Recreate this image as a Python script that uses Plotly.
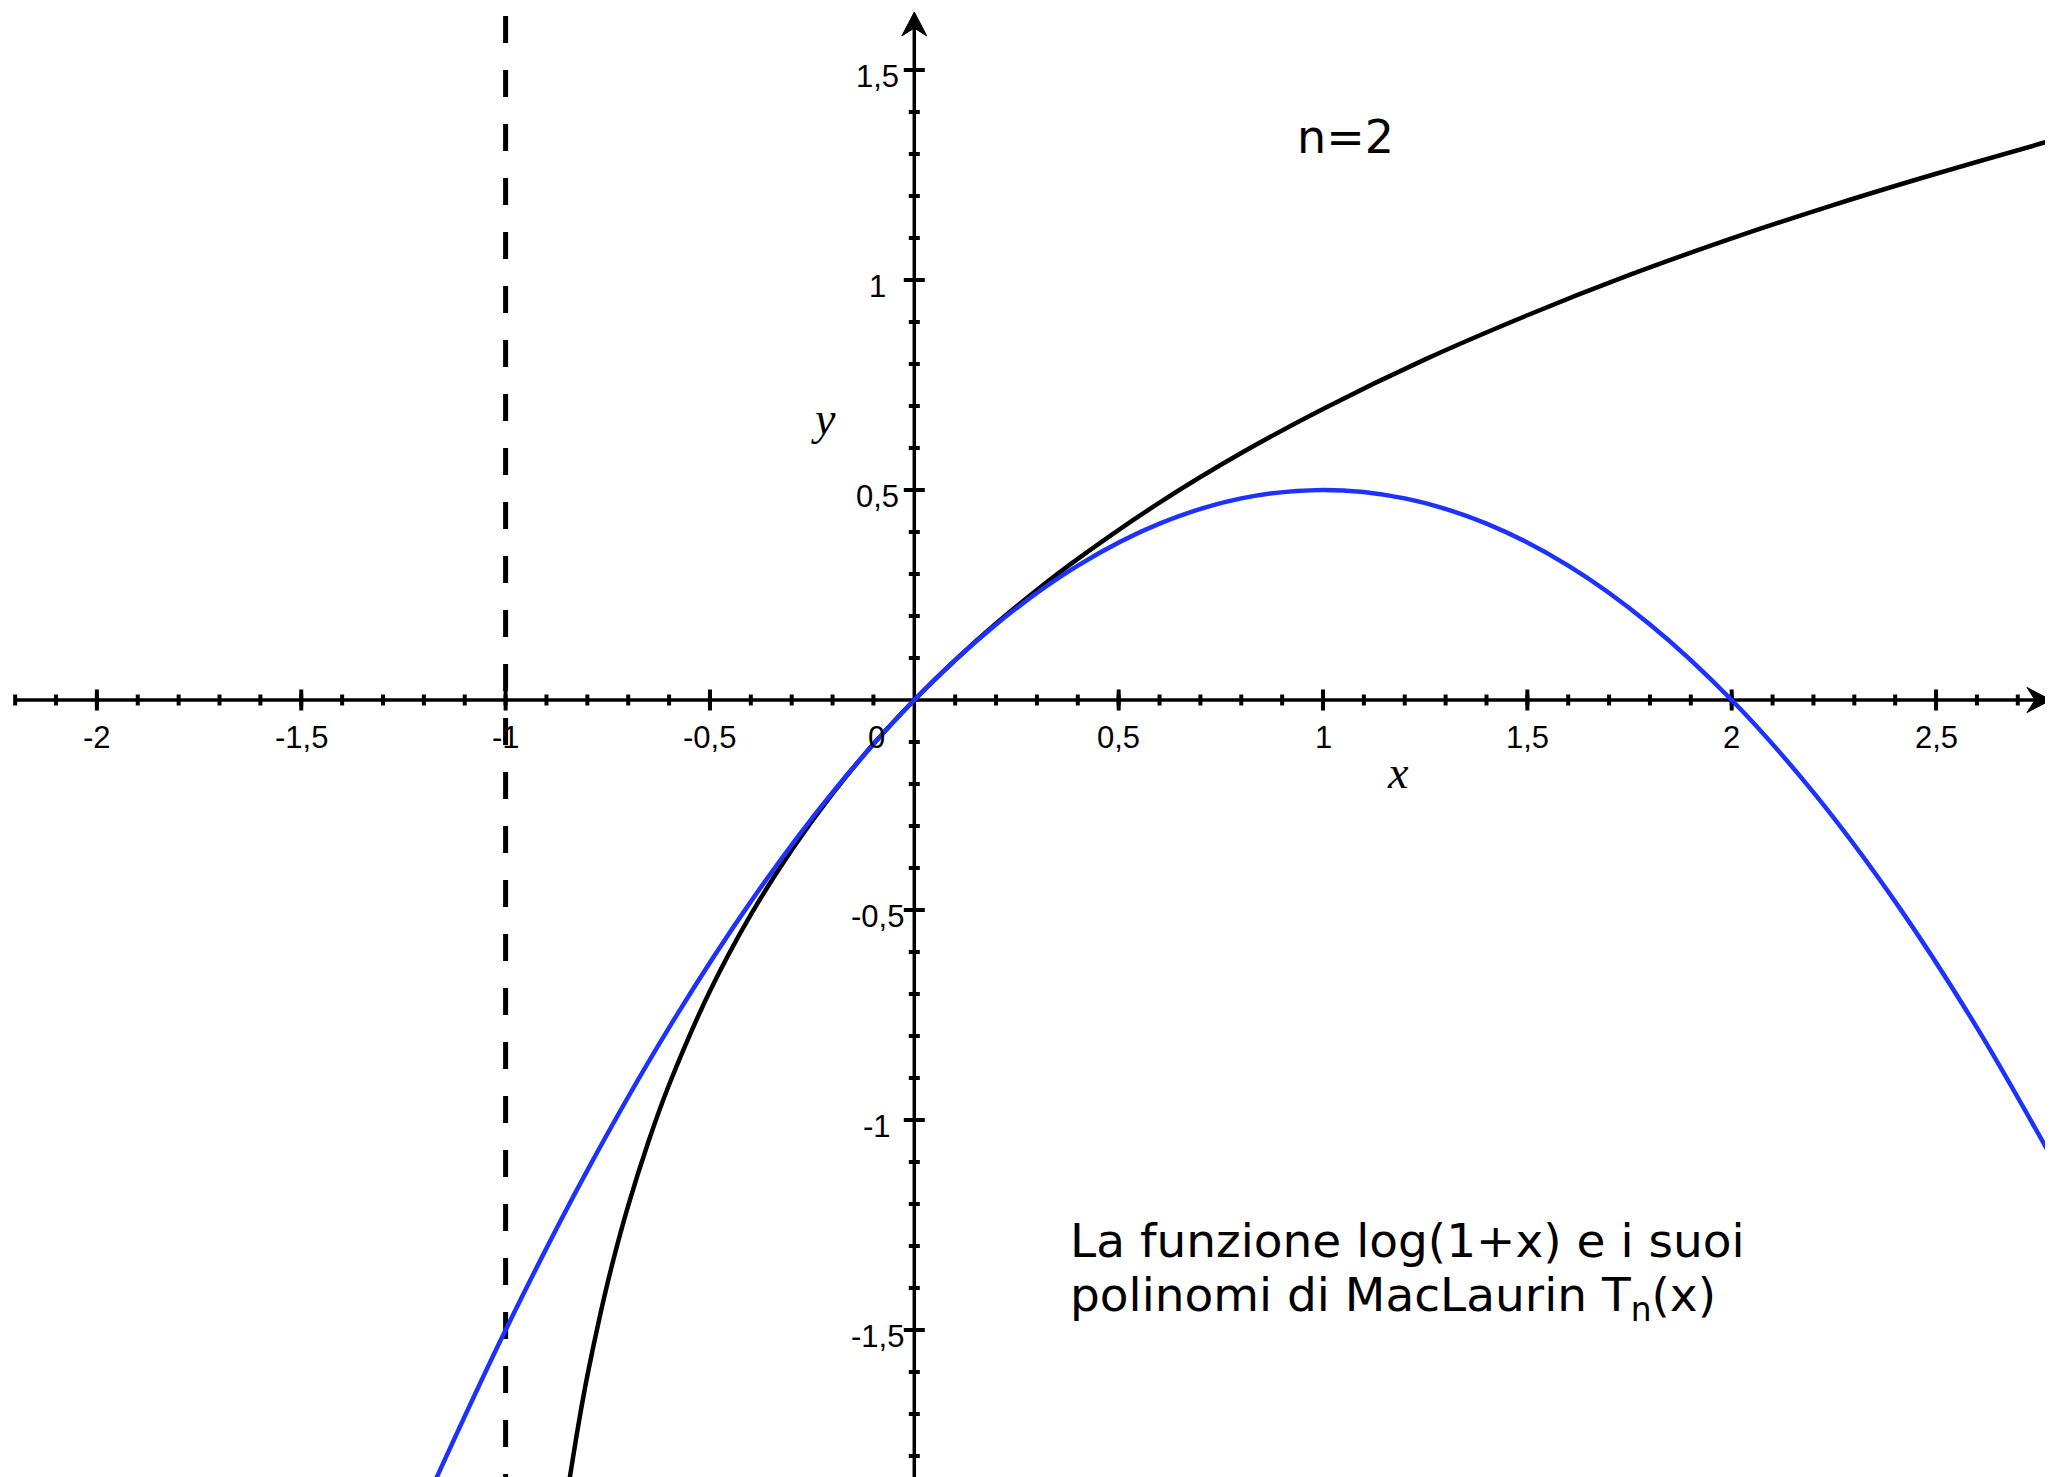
import plotly.graph_objects as go

# ---- data ----
x_log = [-0.843, -0.82, -0.8, -0.77, -0.74, -0.7, -0.65, -0.6, -0.5, -0.4, -0.3, -0.2, -0.1,
         0.0, 0.1, 0.2, 0.3, 0.4, 0.6, 0.8, 1.0, 1.25, 1.5, 1.75, 2.0, 2.25, 2.5, 2.79]
y_log = [-1.852, -1.715, -1.609, -1.470, -1.347, -1.204, -1.050, -0.916, -0.693, -0.511, -0.357, -0.223, -0.105,
         0.0, 0.095, 0.182, 0.262, 0.336, 0.470, 0.588, 0.693, 0.811, 0.916, 1.012, 1.099, 1.179, 1.253, 1.334]

x_t2 = [-1.17, -1.0, -0.8, -0.6, -0.4, -0.2, 0.0, 0.2, 0.4, 0.6, 0.8, 1.0,
        1.2, 1.4, 1.6, 1.8, 2.0, 2.2, 2.4, 2.6, 2.79]
y_t2 = [-1.854, -1.5, -1.12, -0.78, -0.48, -0.22, 0.0, 0.18, 0.32, 0.42, 0.48, 0.5,
        0.48, 0.42, 0.32, 0.18, 0.0, -0.22, -0.48, -0.78, -1.102]

asymptote_x = -1

x_tick_vals = [-2, -1.5, -1, -0.5, 0, 0.5, 1, 1.5, 2, 2.5]
x_tick_text = ["-2", "-1,5", "-1", "-0,5", "0", "0,5", "1", "1,5", "2", "2,5"]
y_tick_vals = [-1.5, -1, -0.5, 0.5, 1, 1.5]
y_tick_text = ["-1,5", "-1", "-0,5", "0,5", "1", "1,5"]

# ---- geometry (page pixels; page body has an 8px margin) ----
PAGE_W, PAGE_H = 2053, 1477
OFF = 8
W, H = PAGE_W - OFF, PAGE_H - OFF
PXX, PXY = 408.7, 420.0          # pixels per unit
X0PX, Y0PX = 914.3, 700.0        # origin position on the page
x_range = [-(X0PX - OFF) / PXX, (PAGE_W - X0PX) / PXX]
y_range = [-(PAGE_H - Y0PX) / PXY, (Y0PX - OFF) / PXY]

x_axis_start = -2.2
x_axis_tip = (PAGE_W - 2 - X0PX) / PXX
y_axis_tip = (Y0PX - 12) / PXY
y_axis_bottom = y_range[0]

x_minor = [round(-2.2 + 0.1 * i, 1) for i in range(50)]
y_minor = [round(-1.8 + 0.1 * i, 1) for i in range(34)]

fig = go.Figure()

# dashed vertical asymptote
fig.add_trace(go.Scatter(x=[asymptote_x, asymptote_x], y=[(Y0PX - 16) / PXY, y_range[0]],
                         mode="lines", line=dict(color="black", width=5, dash="27px,27px"),
                         hoverinfo="skip", showlegend=False))

# ticks
def tick_segments(vals, half, axis):
    xs, ys = [], []
    for v in vals:
        if abs(v) < 1e-9:
            continue
        if axis == "x":
            xs += [v, v, None]
            ys += [-half / PXY, half / PXY, None]
        else:
            xs += [-half / PXX, half / PXX, None]
            ys += [v, v, None]
    return xs, ys

for vals, half, axis in [(x_minor, 5.5, "x"), (x_tick_vals, 10.5, "x"),
                         (y_minor, 5.5, "y"), (y_tick_vals, 10.5, "y")]:
    tx, ty = tick_segments(vals, half, axis)
    fig.add_trace(go.Scatter(x=tx, y=ty, mode="lines", line=dict(color="black", width=4),
                             hoverinfo="skip", showlegend=False))

# axis lines
HEAD_L, HEAD_N, HEAD_W = 24.0, 16.0, 12.5   # arrow head length, notch depth, half-width (px)
fig.add_trace(go.Scatter(x=[x_axis_start, x_axis_tip - HEAD_N / PXX], y=[0, 0], mode="lines",
                         line=dict(color="black", width=3.5), hoverinfo="skip", showlegend=False))
fig.add_trace(go.Scatter(x=[0, 0], y=[y_axis_bottom, y_axis_tip - HEAD_N / PXY], mode="lines",
                         line=dict(color="black", width=3.5), hoverinfo="skip", showlegend=False))

# arrow heads (stealth shape)
ax_x = [x_axis_tip, x_axis_tip - HEAD_L / PXX, x_axis_tip - HEAD_N / PXX, x_axis_tip - HEAD_L / PXX, x_axis_tip]
ax_y = [0, HEAD_W / PXY, 0, -HEAD_W / PXY, 0]
ay_x = [0, HEAD_W / PXX, 0, -HEAD_W / PXX, 0]
ay_y = [y_axis_tip, y_axis_tip - HEAD_L / PXY, y_axis_tip - HEAD_N / PXY, y_axis_tip - HEAD_L / PXY, y_axis_tip]
for hx, hy in [(ax_x, ax_y), (ay_x, ay_y)]:
    fig.add_trace(go.Scatter(x=hx, y=hy, mode="lines", fill="toself", fillcolor="black",
                             line=dict(color="black", width=1), hoverinfo="skip", showlegend=False))

# function log(1+x)
fig.add_trace(go.Scatter(x=x_log, y=y_log, mode="lines", line=dict(color="black", width=4.5, shape="spline"),
                         hoverinfo="skip", showlegend=False))
# Maclaurin polynomial T2
fig.add_trace(go.Scatter(x=x_t2, y=y_t2, mode="lines", line=dict(color="#1e32ff", width=4.5, shape="spline"),
                         hoverinfo="skip", showlegend=False))

tick_font = dict(family="Liberation Sans, Arial, sans-serif", size=31, color="black")
for v, t in zip(x_tick_vals, x_tick_text):
    xv = v if v != 0 else -37.6 / PXX
    fig.add_annotation(x=xv, y=-37 / PXY, text=t, showarrow=False, xanchor="center", yanchor="middle",
                       font=tick_font)
for v, t in zip(y_tick_vals, y_tick_text):
    fig.add_annotation(x=-37.3 / PXX, y=v - 6 / PXY, text=t, showarrow=False, xanchor="center",
                       yanchor="middle", font=tick_font)

serif = dict(family="Liberation Serif, Times New Roman, serif", size=46, color="black", style="italic")
fig.add_annotation(x=(823 - X0PX) / PXX, y=(Y0PX - 418) / PXY, text="y", showarrow=False, font=serif)
fig.add_annotation(x=(1398 - X0PX) / PXX, y=(Y0PX - 772) / PXY, text="x", showarrow=False, font=serif)

sans = dict(family="DejaVu Sans, sans-serif", size=46, color="black")
fig.add_annotation(x=(1345 - X0PX) / PXX, y=(Y0PX - 137) / PXY, text="n=2", showarrow=False, font=sans)
sans_txt = dict(family="DejaVu Sans, sans-serif", size=47, color="black")
fig.add_annotation(x=(1068 - X0PX) / PXX, y=(Y0PX - 1240) / PXY, text="La funzione log(1+x) e i suoi",
                   showarrow=False, xanchor="left", yanchor="middle", font=sans_txt)
fig.add_annotation(x=(1068 - X0PX) / PXX, y=(Y0PX - 1298) / PXY, text="polinomi di MacLaurin T<sub>n</sub>(x)",
                   showarrow=False, xanchor="left", yanchor="middle", font=sans_txt)

fig.update_layout(
    width=W, height=H, margin=dict(l=0, r=0, t=0, b=0),
    paper_bgcolor="white", plot_bgcolor="white", showlegend=False,
    xaxis=dict(range=x_range, visible=False, fixedrange=True),
    yaxis=dict(range=y_range, visible=False, fixedrange=True),
)

fig.write_html("out.html")
